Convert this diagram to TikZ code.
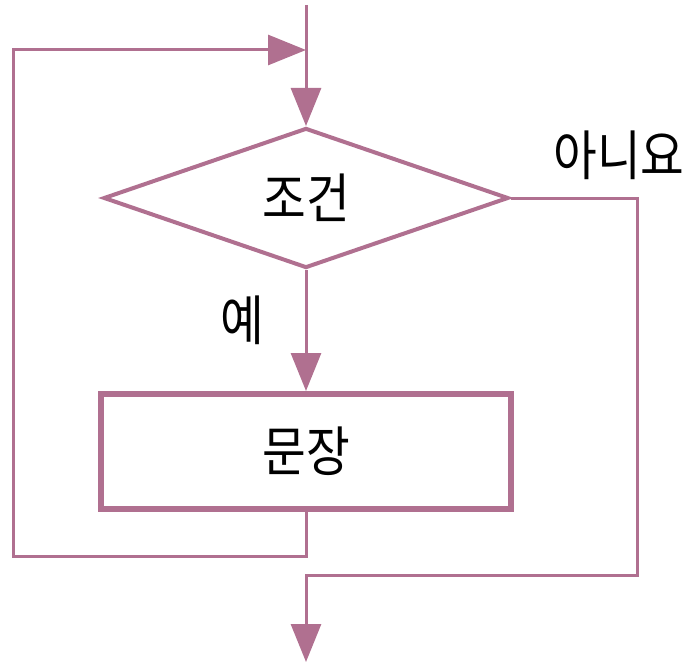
\documentclass[tikz,border=0pt]{standalone}
\usepackage{fontspec}
\newfontfamily\krfont{Noto Sans CJK KR}
\usetikzlibrary{arrows.meta,shapes.geometric}
\definecolor{flow}{RGB}{176,112,144}
\newcommand{\kr}[1]{\scalebox{0.88}[1]{\krfont\fontsize{54}{54}\selectfont #1}}
\begin{document}
\begin{tikzpicture}[x=1pt,y=-1pt,>={Triangle[length=38pt,width=30pt]},line width=3pt,draw=flow,
  word/.style={text=black,inner sep=0pt},
  decision/.style={draw,diamond,inner sep=0pt,minimum width=405pt,minimum height=140pt,line width=4pt,text=black},
  process/.style={draw,rectangle,inner sep=0pt,minimum width=410pt,minimum height=115pt,line width=6pt,text=black}]
\useasboundingbox (0,0) rectangle (690,663);
\node[decision] (cond) at (306,198) {\kr{조건}};
\node[process] (body) at (306,451.5) {\kr{문장}};
\node[word] (no) at (619,155) {\kr{아니요}};
\node[word] (yes) at (242,320) {\kr{예}};
\coordinate (top) at (306,5);
\coordinate (join) at (306,50);
\coordinate (out) at (306,662);
\draw[->] (top) -- (cond.north);
\draw[->] (cond.south) -- (body.north);
\draw[->] (body.south) -- ++(0,44) -| (13,50) -- (join);
\draw[->] (cond.east) -- (637,198) |- (306,575) -- (out);
\end{tikzpicture}
\end{document}
